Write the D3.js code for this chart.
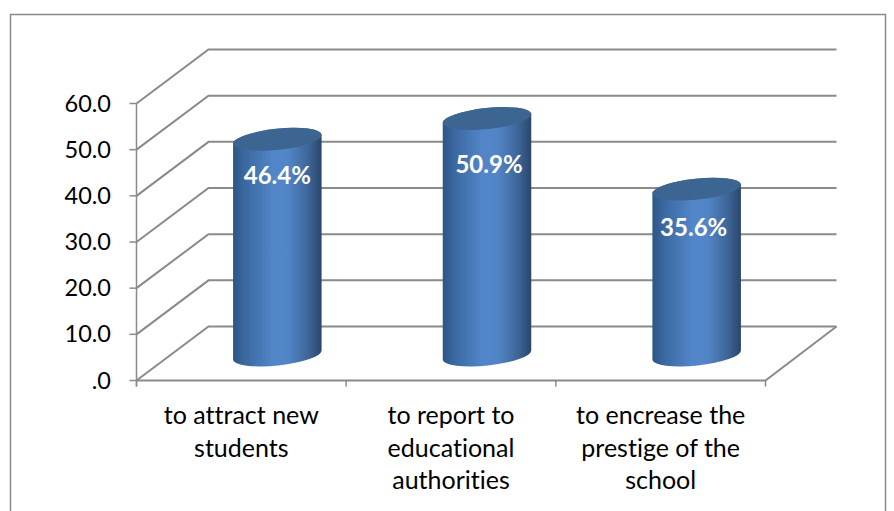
<!DOCTYPE html>
<html><head><meta charset="utf-8">
<script src="https://cdn.jsdelivr.net/npm/d3@7"></script>
<style>html,body{margin:0;padding:0;background:#fff}svg{display:block}text{font-family:Lato,"Noto Sans",sans-serif;font-variant-ligatures:none}</style>
</head><body><div id="c"></div>
<script>
const categories = [["to attract new","students"],["to report to","educational","authorities"],["to encrease the","prestige of the","school"]];
const values = [46.4, 50.9, 35.6];
const valueLabels = ["46.4%","50.9%","35.6%"];
const yTicks = [0,10,20,30,40,50,60];
const yTickLabels = [".0","10.0","20.0","30.0","40.0","50.0","60.0"];
const labelDrop = [37, 46, 39];
const labelShift = [0, 2, -3];

const W=894,H=511;
const svg=d3.select("#c").append("svg").attr("width",W).attr("height",H);
const defs=svg.append("defs");
const g=defs.append("linearGradient").attr("id","cyl");
[[0,"#2d5585"],[0.12,"#3a679f"],[0.45,"#5286c8"],[0.62,"#5285c6"],[0.85,"#3d6699"],[1,"#2a4669"]]
 .forEach(s=>g.append("stop").attr("offset",s[0]).attr("stop-color",s[1]));

const grey="#8a8a8a";
svg.append("path").attr("d",`M10.5,${H} V14.5 H885.5 V${H}`).attr("fill","none").attr("stroke",grey).attr("stroke-width",1.5);

const x=d3.scaleBand().domain(d3.range(categories.length)).range([136.5,765.5]).padding(0);
const y=d3.scaleLinear().domain([0,60]).range([380.5,103.5]);
const dx=72,dy=-54, midDx=dx/2, midDy=dy/2;
const xEnd=x.range()[1];
const wall=svg.append("g").attr("fill","none").attr("stroke",grey).attr("stroke-width",2);
yTicks.forEach(t=>{
  const p=d3.path();
  p.moveTo(x.range()[0],y(t));
  p.lineTo(x.range()[0]+dx,y(t)+dy);
  p.lineTo(xEnd+dx-1,y(t)+dy);
  wall.append("path").attr("d",p.toString());
});
const floor=d3.path();
floor.moveTo(x.range()[0],y(0));floor.lineTo(xEnd,y(0));floor.lineTo(xEnd+dx-1,y(0)+dy);
wall.append("path").attr("d",floor.toString());
const axisY=svg.append("g").attr("stroke",grey).attr("stroke-width",1.5);
axisY.append("line").attr("x1",x.range()[0]).attr("x2",x.range()[0]).attr("y1",y(60)).attr("y2",y(0)+6);
yTicks.forEach(t=>axisY.append("line").attr("x1",x.range()[0]-7).attr("x2",x.range()[0]).attr("y1",y(t)).attr("y2",y(t)));
d3.range(categories.length+1).forEach(i=>{
  const X=x.range()[0]+i*x.step();
  axisY.append("line").attr("x1",X).attr("x2",X).attr("y1",y(0)).attr("y2",y(0)+6);
});
svg.append("g").selectAll("text").data(yTicks).join("text")
  .attr("x",111).attr("y",t=>y(t)+8).attr("text-anchor","end")
  .attr("font-size",23.5).attr("fill","#000")
  .text((t,i)=>yTickLabels[i]);
categories.forEach((lines,i)=>{
  const t=svg.append("text").attr("text-anchor","middle").attr("font-size",25).attr("fill","#000");
  lines.forEach((l,j)=>t.append("tspan").attr("x",x(i)+x.bandwidth()/2).attr("y",424+j*32.5).text(l));
});
const rx=44.5,ry=10.5,rot=-6,rad=rot*Math.PI/180;
const ex=rx*Math.cos(rad), ey=rx*Math.sin(rad);
values.forEach((v,i)=>{
  const cx=x(i)+x.bandwidth()/2+midDx;
  const top=y(v)+midDy, bot=y(0)+midDy+1.5;
  const body=`M${cx-ex},${top-ey} A${rx},${ry} ${rot} 0 1 ${cx+ex},${top+ey} L${cx+ex},${bot+ey} A${rx},${ry} ${rot} 0 1 ${cx-ex},${bot-ey} Z`;
  svg.append("path").attr("d",body).attr("fill","url(#cyl)");
  svg.append("ellipse").attr("cx",0).attr("cy",0).attr("rx",rx).attr("ry",ry)
    .attr("transform",`translate(${cx},${top}) rotate(${rot})`).attr("fill","#3d6591");
  svg.append("text").attr("x",cx+labelShift[i]).attr("y",top+labelDrop[i]+8)
    .attr("text-anchor","middle").attr("font-size",24).attr("font-weight",700).attr("fill","#fff").text(valueLabels[i]);
});
</script></body></html>
